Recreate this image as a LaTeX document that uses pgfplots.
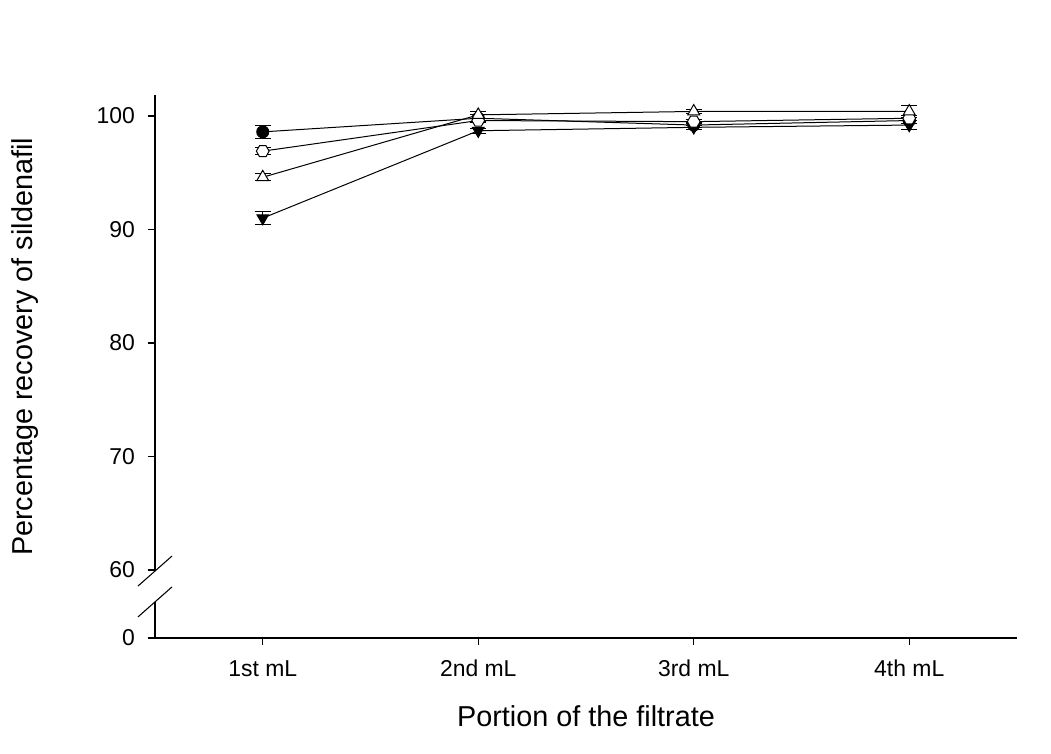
\documentclass[border=0pt]{standalone}
\usepackage{pgfplots}
\pgfplotsset{compat=1.18}
\usepackage{fontspec}
\setmainfont{Liberation Sans}

\pgfdeclareplotmark{hexagon}{%
  \pgfpathmoveto{\pgfqpointpolar{0}{\pgfplotmarksize}}%
  \pgfpathlineto{\pgfqpointpolar{60}{\pgfplotmarksize}}%
  \pgfpathlineto{\pgfqpointpolar{120}{\pgfplotmarksize}}%
  \pgfpathlineto{\pgfqpointpolar{180}{\pgfplotmarksize}}%
  \pgfpathlineto{\pgfqpointpolar{240}{\pgfplotmarksize}}%
  \pgfpathlineto{\pgfqpointpolar{300}{\pgfplotmarksize}}%
  \pgfpathclose
  \pgfusepathqfillstroke}

\begin{document}
\begin{tikzpicture}
\begin{axis}[
  scale only axis,
  width=646.5pt, height=407.25pt,
  xmin=-0.5, xmax=3.5,
  ymin=0, ymax=47.85,
  axis lines=left,
  axis line style={-, line width=1pt},
  y axis line style={draw=none},
  tick align=outside,
  major tick length=5.5pt,
  tick style={black, line width=1pt},
  xtick={0,1,2,3},
  xticklabels={1st mL,2nd mL,3rd mL,4th mL},
  ytick={0,6,16,26,36,46},
  yticklabels={0,60,70,80,90,100},
  y filter/.code={\pgfmathparse{\pgfmathresult-54}},
  ticklabel style={font=\fontsize{17.2}{20}\selectfont},
  xticklabel style={yshift=-12pt, text height=1.5ex, text depth=0.3ex},
  yticklabel style={xshift=-6pt},
  xlabel={Portion of the filtrate},
  ylabel={Percentage recovery of sildenafil},
  label style={font=\fontsize{21.6}{25}\selectfont},
  xlabel style={at={(axis description cs:0.5,0)}, anchor=center, yshift=-58.5pt},
  ylabel style={at={(axis description cs:0,0.536)}, anchor=center, yshift=97.5pt},
  every axis plot/.append style={black, line width=0.75pt},
  error bars/y dir=both,
  error bars/y explicit,
  error bars/error mark options={rotate=90, mark size=6pt, line width=0.75pt, black},
  error bars/error bar style={line width=0.75pt, black},
  clip=false,
]
% filled triangle down
\addplot[mark=triangle*, mark size=5pt, mark options={fill=black, rotate=180}]
  coordinates {(0,91.0) +- (0,0.6) (1,98.7) +- (0,0.2) (2,99.0) +- (0,0.2) (3,99.2) +- (0,0.4)};
% filled circle
\addplot[mark=*, mark size=4.5pt, mark options={fill=black}]
  coordinates {(0,98.6) +- (0,0.6) (1,99.8) +- (0,0.3) (2,99.2) +- (0,0.2) (3,99.6) +- (0,0.3)};
% open hexagon
\addplot[mark=hexagon, mark size=4.8pt, mark options={fill=white}]
  coordinates {(0,96.9) +- (0,0.3) (1,99.6) +- (0,0.2) (2,99.5) +- (0,0.2) (3,99.8) +- (0,0.2)};
% open triangle up
\addplot[mark=triangle*, mark size=5.2pt, mark options={fill=white}]
  coordinates {(0,94.6) +- (0,0.3) (1,100.1) +- (0,0.3) (2,100.4) +- (0,0.2) (3,100.4) +- (0,0.5)};
% broken y axis
\draw[line width=1pt] (axis cs:-0.5,0) -- (axis cs:-0.5,3.18);
\draw[line width=1pt] (axis cs:-0.5,6) -- (axis cs:-0.5,47.85);
\draw[line width=0.8pt] ([shift={(-12.75pt,-11.25pt)}]axis cs:-0.5,5.9) -- ([shift={(12.75pt,11.25pt)}]axis cs:-0.5,5.9);
\draw[line width=0.8pt] ([shift={(-12.75pt,-11.25pt)}]axis cs:-0.5,3.18) -- ([shift={(12.75pt,11.25pt)}]axis cs:-0.5,3.18);
\end{axis}
\pgfresetboundingbox
\useasboundingbox (-116.25pt,-87pt) rectangle (672pt,478.5pt);
\end{tikzpicture}
\end{document}
